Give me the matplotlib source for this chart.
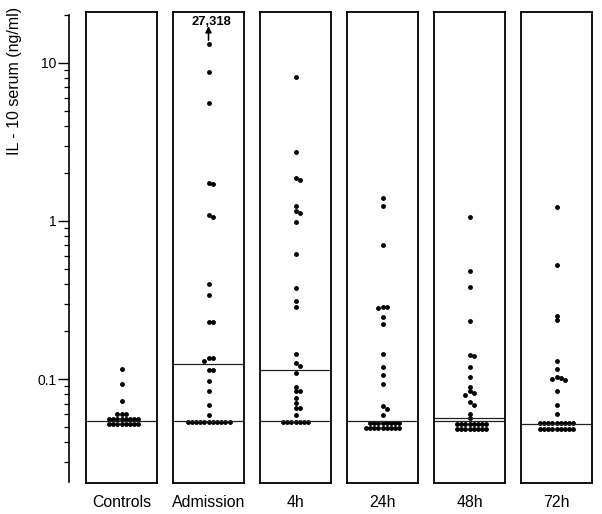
import numpy as np
import matplotlib.pyplot as plt
from matplotlib.ticker import LogLocator, FixedLocator, NullFormatter

plt.rcParams['font.family'] = ['Liberation Sans', 'DejaVu Sans']

# IL-10 serum values (ng/ml)
groups = ['Controls', 'Admission', '4h', '24h', '48h', '72h']

controls = [0.116, 0.0926, 0.0725, 0.060, 0.060, 0.060,
            0.0555, 0.0555, 0.0555, 0.0555, 0.0555, 0.0555, 0.0555, 0.0555,
            0.0517, 0.0517, 0.0517, 0.0517, 0.0517, 0.0517, 0.0517, 0.0517]
admission = [13.1, 8.7, 5.6, 1.75, 1.71, 1.09, 1.06, 0.40, 0.34, 0.229, 0.229,
             0.136, 0.136, 0.131, 0.1135, 0.1135, 0.097, 0.084, 0.0688, 0.059,
             0.0535, 0.0535, 0.0535, 0.0535, 0.0535, 0.0535, 0.0535, 0.0535,
             0.0535, 0.0535, 0.0535]
h4 = [8.15, 2.72, 1.87, 1.82, 1.24, 1.15, 1.12, 0.98, 0.62, 0.377, 0.31, 0.286,
      0.145, 0.126, 0.121, 0.1087, 0.0895, 0.084, 0.084, 0.076, 0.0705, 0.066,
      0.066, 0.059,
      0.0535, 0.0535, 0.0535, 0.0535, 0.0535, 0.0535, 0.0535]
h24 = [1.40, 1.245, 0.71, 0.287, 0.287, 0.28, 0.248, 0.224, 0.144, 0.12, 0.106,
       0.0925, 0.0675, 0.0645, 0.059,
       0.0525, 0.0525, 0.0525, 0.0525, 0.0525, 0.0525, 0.0525, 0.0525,
       0.0488, 0.0488, 0.0488, 0.0488, 0.0488, 0.0488, 0.0488, 0.0488, 0.0488]
h48 = [1.06, 0.483, 0.38, 0.232, 0.1425, 0.139, 0.12, 0.103, 0.0895, 0.0838,
       0.082, 0.0795, 0.0713, 0.0688, 0.060, 0.0564,
       0.0517, 0.0517, 0.0517, 0.0517, 0.0517, 0.0517, 0.0517, 0.0517,
       0.0481, 0.0481, 0.0481, 0.0481, 0.0481, 0.0481, 0.0481, 0.0481]
h72 = [1.23, 0.525, 0.251, 0.236, 0.13, 0.115, 0.1035, 0.101, 0.1, 0.098,
       0.0846, 0.069, 0.060,
       0.0525, 0.0525, 0.0525, 0.0525, 0.0525, 0.0525, 0.0525, 0.0525, 0.0525,
       0.0485, 0.0485, 0.0485, 0.0485, 0.0485, 0.0485, 0.0485, 0.0485, 0.0485]
data = [controls, admission, h4, h24, h48, h72]

# horizontal lines (detection limit / medians)
lines = [[0.054], [0.054, 0.125], [0.054, 0.114], [0.054], [0.054, 0.0565], [0.052]]

offscale_label = '27,318'
ylim = (0.022, 21.0)

fig = plt.figure(figsize=(6.02, 5.14), dpi=100)
W, H = 602.0, 514.0
top_px, bot_px = 12, 483
pw = 71
lefts = [86, 173, 260, 347, 434, 521]


def swarm(ypix, d):
    # simple beeswarm: place points bottom-up at first free slot 0, +d, -d, ...
    order = np.argsort(-ypix)
    xs = np.zeros(len(ypix))
    placed = []
    for i in order:
        k = 0
        while True:
            step = (k + 1) // 2
            off = step * d if k % 2 == 1 else -step * d
            ok = True
            for (px, py) in placed:
                if (px - off) ** 2 + (py - ypix[i]) ** 2 < (d * 0.97) ** 2:
                    ok = False
                    break
            if ok:
                break
            k += 1
        xs[i] = off
        placed.append((off, ypix[i]))
    return xs


for i, name in enumerate(groups):
    ax = fig.add_axes([lefts[i] / W, 1 - bot_px / H, pw / W, (bot_px - top_px) / H])
    ax.set_yscale('log')
    ax.set_ylim(*ylim)
    ax.set_xlim(-1, 1)
    ax.set_xticks([])
    ax.set_yticks([])
    ax.yaxis.set_minor_locator(FixedLocator([]))
    for s in ax.spines.values():
        s.set_linewidth(1.3)
    vals = np.array(data[i])
    ypix = ax.transData.transform(np.column_stack([np.zeros(len(vals)), vals]))[:, 1]
    ppu = ax.transData.transform((1, 1))[0] - ax.transData.transform((0, 1))[0]
    xoff = swarm(ypix, 4.2) / ppu
    ax.plot(xoff, vals, 'o', color='black', markersize=3.5, markeredgewidth=0)
    for v in lines[i]:
        ax.axhline(v, color='#222222', linewidth=0.9)
    ax.text(0.5, -0.051, name, transform=ax.transAxes, ha='center',
            va='baseline', fontsize=11.4)
    if name == 'Admission':
        # off-scale value marker
        ax.annotate('', xy=(0, 0.970), xytext=(0, 0.940),
                    xycoords=('data', 'axes fraction'),
                    arrowprops=dict(arrowstyle='-|>', color='black', lw=1.1,
                                    mutation_scale=9, shrinkA=0, shrinkB=0))
        ax.text(0.07, 0.972, offscale_label, transform=ax.get_xaxis_transform(),
                ha='center', va='baseline', fontsize=9.4, fontweight='bold')

# y axis
ay = fig.add_axes([69 / W, 1 - bot_px / H, 0.001, (bot_px - top_px) / H])
ay.set_yscale('log')
ay.set_ylim(*ylim)
for s in ['top', 'right', 'bottom']:
    ay.spines[s].set_visible(False)
ay.spines['left'].set_bounds(0.0223, 20.1)
ay.spines['left'].set_linewidth(1.2)
ay.set_xticks([])
ay.set_yticks([0.1, 1, 10])
ay.set_yticklabels(['0.1', '1', '10'], fontsize=10)
ay.yaxis.set_minor_locator(LogLocator(base=10, subs=np.arange(2, 10)))
ay.yaxis.set_minor_formatter(NullFormatter())
ay.tick_params(axis='y', which='major', length=8, width=1, pad=1)
ay.tick_params(axis='y', which='minor', length=3.5, width=0.9)
ay.patch.set_visible(False)

fig.text(15 / W, 1 - 81 / H, 'IL - 10 serum (ng/ml)', rotation=90,
         ha='center', va='center', fontsize=11.5)

fig.savefig('out.png', dpi=100)
